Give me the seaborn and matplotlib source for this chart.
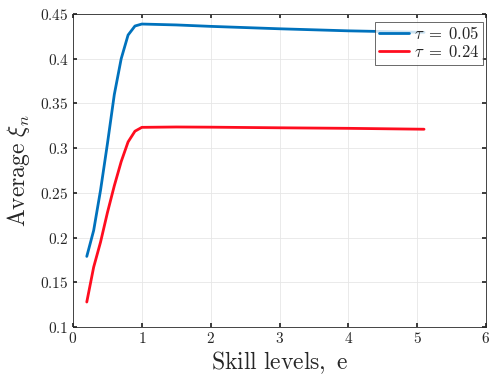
import numpy as np
import pandas as pd
import seaborn as sns
import matplotlib.pyplot as plt
from matplotlib.ticker import FuncFormatter

# skill levels and average xi_n
skill_blue = [0.2, 0.3, 0.4, 0.5, 0.6, 0.7, 0.8, 0.9, 1.0, 1.5, 2.0, 3.0, 4.0, 5.1]
xi_blue = [0.179, 0.208, 0.253, 0.305, 0.360, 0.400, 0.4265, 0.4366, 0.4388,
           0.4378, 0.4362, 0.4335, 0.4312, 0.4295]
skill_red = [0.2, 0.3, 0.4, 0.5, 0.6, 0.7, 0.8, 0.9, 1.0, 1.5, 2.0, 3.0, 4.0, 5.1]
xi_red = [0.128, 0.167, 0.195, 0.228, 0.258, 0.285, 0.307, 0.319, 0.3233,
          0.3237, 0.3235, 0.3228, 0.3222, 0.3212]
series_labels = [r"$\tau\;=\;0.05$", r"$\tau\;=\;0.24$"]
colors = ["#0072BD", "#FF0D1F"]

df = pd.concat([
    pd.DataFrame({"e": skill_blue, "xi": xi_blue, "tau": series_labels[0]}),
    pd.DataFrame({"e": skill_red, "xi": xi_red, "tau": series_labels[1]}),
])

sns.set_theme(style="whitegrid")
plt.rcParams["mathtext.fontset"] = "cm"
plt.rcParams["font.family"] = ["DejaVu Serif"]

fig = plt.figure(figsize=(4.91, 3.79), dpi=100)
ax = fig.add_axes([0.1487, 0.137, 0.8411, 0.826])
sns.lineplot(data=df, x="e", y="xi", hue="tau", palette=colors,
             linewidth=2.0, ax=ax, sort=False)

ax.set_xlim(0, 6)
ax.set_ylim(0.1, 0.45)
ax.set_xticks(range(0, 7))
ax.set_yticks(np.arange(0.1, 0.451, 0.05))
ax.xaxis.set_major_formatter(FuncFormatter(lambda v, p: r"$\mathrm{%g}$" % round(v, 2)))
ax.yaxis.set_major_formatter(FuncFormatter(lambda v, p: r"$\mathrm{%g}$" % round(v, 2)))
ax.tick_params(axis="both", direction="in", length=3, labelsize=11,
               colors="#262626", pad=3)
ax.tick_params(top=True, right=True, bottom=True, left=True)
ax.grid(True, color="#e6e6e6", linewidth=0.6)
ax.set_facecolor("white")
for sp in ax.spines.values():
    sp.set_color("#262626")
    sp.set_linewidth(0.6)

ax.set_xlabel(r"$\mathrm{Skill\ levels,\ e}$", fontsize=17, color="#262626", labelpad=2)
ax.set_ylabel(r"$\mathrm{Average}\ \xi_n$", fontsize=17, color="#262626", labelpad=6)

leg = ax.legend(loc="upper right", bbox_to_anchor=(0.993, 0.975), fontsize=12,
                frameon=True, fancybox=False, handlelength=1.75,
                handletextpad=0.3, borderpad=0.25, labelspacing=0.05,
                borderaxespad=0.0)
leg.get_frame().set_edgecolor("#262626")
leg.get_frame().set_linewidth(0.6)
leg.set_title(None)

fig.savefig("out.png", dpi=100)
